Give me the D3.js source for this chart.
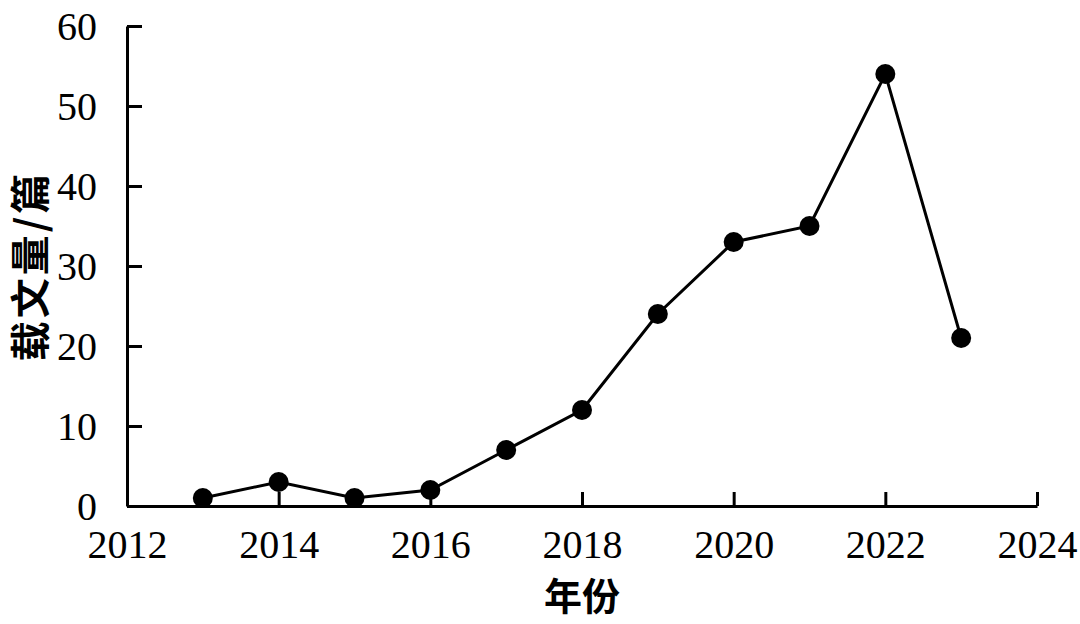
<!DOCTYPE html>
<html lang="zh">
<head>
  <meta charset="UTF-8">
  <title>载文量</title>
  <script src="https://d3js.org/d3.v7.min.js"></script>
  <style>
    body { margin: 0; background: #fff; }
    .tick text { font-family: "Liberation Serif", "DejaVu Serif", serif; }
  </style>
</head>
<body>
  <div id="chart"></div>
  <script>
  // data
  const years = [2013, 2014, 2015, 2016, 2017, 2018, 2019, 2020, 2021, 2022, 2023]
  const papers = [1, 3, 1, 2, 7, 12, 24, 33, 35, 54, 21]
  const xTicks = [2012, 2014, 2016, 2018, 2020, 2022, 2024]
  const yTicks = [0, 10, 20, 30, 40, 50, 60]

  const width = 1080, height = 624
  const margin = { left: 127, right: 43, top: 26, bottom: 118 }

  const svg = d3.select('#chart')
    .append('svg')
    .attr('width', width)
    .attr('height', height)

  const x = d3.scaleLinear()
    .domain([2012, 2024])
    .range([margin.left, width - margin.right])
  const y = d3.scaleLinear()
    .domain([0, 60])
    .range([height - margin.bottom, margin.top])

  const xAxis = svg.append('g')
    .attr('transform', `translate(0, ${y(0)})`)
    .call(d3.axisBottom(x).tickValues(xTicks).tickFormat(d3.format('d'))
      .tickSizeInner(-14).tickSizeOuter(0).tickPadding(24))
  const yAxis = svg.append('g')
    .attr('transform', `translate(${x(2012)}, 0)`)
    .call(d3.axisLeft(y).tickValues(yTicks)
      .tickSizeInner(-15).tickSizeOuter(0).tickPadding(30))

  ;[xAxis, yAxis].forEach(g => {
    g.select('.domain').attr('stroke', '#000').attr('stroke-width', 3)
    g.selectAll('.tick line').attr('stroke', '#000').attr('stroke-width', 3)
    g.selectAll('.tick text').attr('fill', '#000').attr('font-size', 40)
  })
  xAxis.selectAll('.tick text').attr('dy', '0.71em')
  yAxis.selectAll('.tick text').attr('dy', '0.34em')

  const line = d3.line()
    .x((d, i) => x(years[i]))
    .y(d => y(d))

  svg.append('path')
    .datum(papers)
    .attr('d', line)
    .attr('fill', 'none')
    .attr('stroke', '#000')
    .attr('stroke-width', 3)

  svg.selectAll('circle')
    .data(papers)
    .enter()
    .append('circle')
    .attr('cx', (d, i) => x(years[i]))
    .attr('cy', d => y(d))
    .attr('r', 10)
    .attr('fill', '#000')

  svg.append('text')
    .attr('x', (x(2012) + x(2024)) / 2 - 0)
    .attr('y', 610)
    .attr('text-anchor', 'middle')
    .attr('font-family', '"Noto Sans CJK SC", sans-serif')
    .attr('font-weight', 700)
    .attr('font-size', 38)
    .text('年份')

  svg.append('text')
    .attr('transform', `translate(45, ${(y(0) + y(60)) / 2}) rotate(-90)`)
    .attr('text-anchor', 'middle')
    .attr('font-family', '"Noto Sans CJK SC", sans-serif')
    .attr('font-weight', 700)
    .attr('font-size', 40)
    .attr('letter-spacing', 3)
    .text('载文量/篇')
  </script>
</body>
</html>
